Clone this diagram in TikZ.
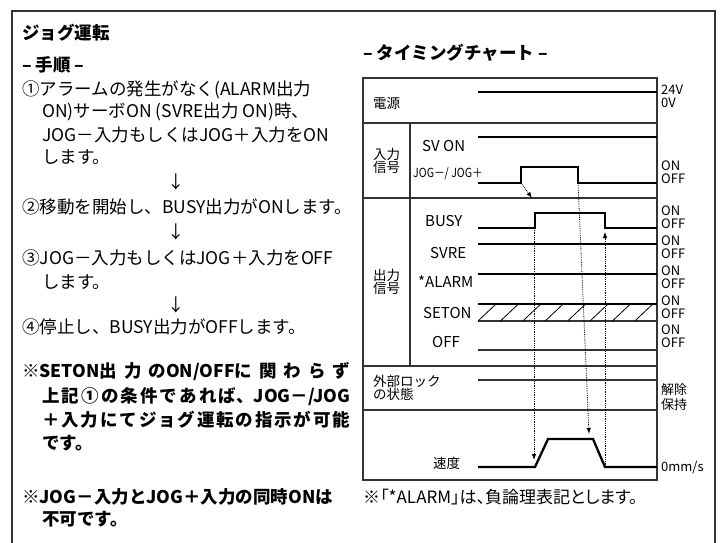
\documentclass[tikz,border=0pt]{standalone}
\usepackage{fontspec}
\setmainfont{Noto Sans CJK JP}
\usetikzlibrary{arrows.meta, positioning}

\begin{document}
\begin{tikzpicture}[x=1pt, y=-1pt]
    % Text styles
    \tikzstyle{txt} = [anchor=west, inner sep=0pt, font=\fontsize{17.5}{21}\selectfont]
    \tikzstyle{head} = [anchor=west, inner sep=0pt, font=\fontsize{17.5}{21}\selectfont\bfseries]
    \tikzstyle{grp} = [anchor=west, inner sep=0pt, align=left, font=\fontsize{13.5}{13.5}\selectfont]
    \tikzstyle{sig} = [anchor=west, inner sep=0pt, font=\fontsize{15}{15}\selectfont]
    \tikzstyle{lvl} = [anchor=west, inner sep=0pt, font=\fontsize{13}{13}\selectfont]
    % Line styles
    \tikzstyle{frame} = [line width=1.3pt, black!80]
    \tikzstyle{rule} = [line width=1.1pt, black!80]
    \tikzstyle{wave} = [line width=2.3pt, line join=miter]
    \tikzstyle{cause} = [densely dotted, line width=0.8pt, -{Latex[length=6pt, width=4.5pt]}]

    \useasboundingbox (0,0) rectangle (723,543);

    % Outer frame, open at the bottom
    \draw[frame] (12,543) -- (12,11) -- (715,11) -- (715,543);

    % Procedure
    \node[head] (title) at (22,33) {ジョグ運転};
    \node[head] (steps) at (22,65) {– 手順 –};
    \node[txt] (s1a) at (22,90) {①アラームの発生がなく(ALARM出力};
    \node[txt] (s1b) at (42,112) {ON)サーボON (SVRE出力 ON)時、};
    \node[txt] (s1c) at (42,135) {JOG－入力もしくはJOG＋入力をON};
    \node[txt] (s1d) at (42,157) {します。};
    \node[txt, anchor=center] (d1) at (176,182) {↓};
    \node[txt] (s2) at (22,207) {②移動を開始し、BUSY出力がONします。};
    \node[txt, anchor=center] (d2) at (176,232) {↓};
    \node[txt] (s3a) at (22,258) {③JOG－入力もしくはJOG＋入力をOFF};
    \node[txt] (s3b) at (42,282) {します。};
    \node[txt, anchor=center] (d3) at (176,305) {↓};
    \node[txt] (s4) at (22,327) {④停止し、BUSY出力がOFFします。};
    \node[head] (n1a) at (22,372) {\makebox[328pt][s]{※SETON出\hfil 力\hfil のON/OFFに\hfil 関\hfil わ\hfil ら\hfil ず}};
    \node[head] (n1b) at (42,397) {\makebox[308pt][s]{上\hfil 記\hfil ①\hfil の\hfil 条\hfil 件\hfil で\hfil あ\hfil れ\hfil ば、JOG－/JOG}};
    \node[head] (n1c) at (42,420) {\makebox[308pt][s]{＋\hfil 入\hfil 力\hfil に\hfil て\hfil ジ\hfil ョ\hfil グ\hfil 運\hfil 転\hfil の\hfil 指\hfil 示\hfil が\hfil 可\hfil 能}};
    \node[head] (n1d) at (42,443) {です。};
    \node[head] (n2a) at (22,497) {※JOG－入力とJOG＋入力の同時ONは};
    \node[head] (n2b) at (42,519) {不可です。};

    % Timing chart
    \node[head] (chart) at (363,53) {– タイミングチャート –};
    \draw[rule] (363,78) rectangle (657,480);
    \draw[rule] (363,123) -- (657,123);
    \draw[rule] (363,198) -- (657,198);
    \draw[rule] (363,366) -- (657,366);
    \draw[rule] (363,410) -- (657,410);
    \draw[rule] (410,123) -- (410,366);

    \node[grp] (power) at (373,103) {電源};
    \node[grp] (inp) at (373,161) {入力\\信号};
    \node[grp] (outp) at (373,282) {出力\\信号};
    \node[grp] (lock) at (373,388) {外部ロック\\の状態};

    \node[sig] (svon) at (422,146) {SV ON};
    \node[sig, font=\fontsize{12.5}{12.5}\selectfont] (jog) at (413,174) {\scalebox{0.85}[1]{JOG－/ JOG＋}};
    \node[sig] (busy) at (425,221) {BUSY};
    \node[sig] (svre) at (430,253) {SVRE};
    \node[sig] (alarm) at (418,282) {*ALARM};
    \node[sig] (seton) at (423,313) {SETON};
    \node[sig] (off) at (432,342) {OFF};
    \node[grp] (speed) at (433,463) {速度};

    % Levels
    \node[lvl] at (661,90) {24V};
    \node[lvl] at (661,103) {0V};
    \foreach \y in {166,211,241,271,301,330} {
        \node[lvl] at (661,\y) {ON};
        \node[lvl] at (661,\y+13) {OFF};
    }
    \node[lvl] at (661,390) {解除};
    \node[lvl] at (661,405) {保持};
    \node[lvl] at (661,467) {0mm/s};

    % Waveforms
    \draw[wave] (478,92) -- (657,92);
    \draw[wave] (478,137) -- (657,137);
    \draw[wave] (478,183) -- (521,183) -- (521,167) -- (578,167) -- (578,183) -- (657,183);
    \draw[wave] (478,228) -- (535,228) -- (535,213) -- (605,213) -- (605,228) -- (657,228);
    \draw[wave] (478,244) -- (657,244);
    \draw[wave] (478,274) -- (657,274);
    \draw[wave] (478,304) -- (657,304);
    \draw[rule] (478,321) -- (657,321);
    \foreach \i in {0,...,7}
        \draw[line width=0.8pt] (478+\i*22.4,321) -- ++(18,-17);
    \draw[rule] (478,350) -- (657,350);
    \draw[rule] (478,380) -- (657,380);
    \draw[wave] (478,467) -- (535,467) -- (548,439) -- (593,439) -- (605,467) -- (657,467);

    % Cause and effect
    \coordinate (jogrise) at (521,183);
    \coordinate (jogfall) at (578,183);
    \coordinate (busyrise) at (534,228);
    \coordinate (busyfall) at (605,232);
    \coordinate (outtop) at (532,198);
    \coordinate (spdrise) at (534,460);
    \coordinate (spdfall) at (589,434);
    \coordinate (spdstop) at (605,467);
    \draw[cause] (jogrise) -- (outtop);
    \draw[cause] (jogfall) -- (spdfall);
    \draw[cause] (busyrise) -- (spdrise);
    \draw[cause] (spdstop) -- (busyfall);

    \node[txt, font=\fontsize{17}{18}\selectfont\addfontfeatures{RawFeature=+palt}] (note) at (363,497) {※「*ALARM」は、負論理表記とします。};
\end{tikzpicture}
\end{document}
